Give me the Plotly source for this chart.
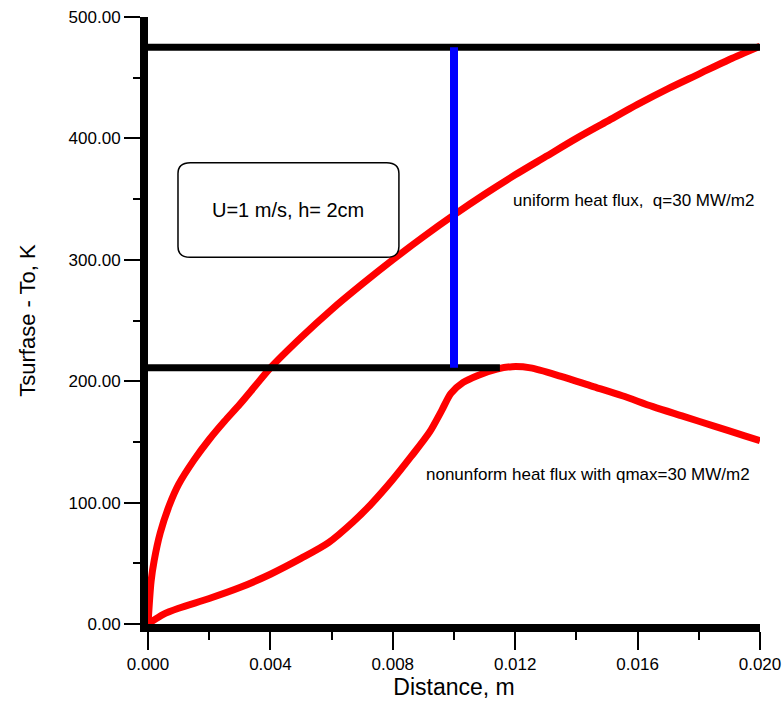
import plotly.graph_objects as go

# ---- data ----
uniform_x = [0.0, 0.0001, 0.0002, 0.0004, 0.0007, 0.001, 0.0015, 0.002, 0.0025, 0.003, 0.0035,
             0.004, 0.005, 0.006, 0.007, 0.008, 0.009, 0.010, 0.011, 0.012, 0.013, 0.014,
             0.015, 0.016, 0.017, 0.018, 0.019, 0.020]
uniform_T = [0, 35, 52, 75, 98, 115, 135, 152, 167, 181, 196,
             211, 236, 259, 280, 300, 319, 337, 354, 370, 385, 400,
             414, 428, 441, 453, 465, 476]

nonuni_x = [0.0, 0.0005, 0.001, 0.002, 0.003, 0.004, 0.005, 0.0059, 0.0067, 0.0073,
            0.0080, 0.0086, 0.0092, 0.0096, 0.0099, 0.0103, 0.0108, 0.0114, 0.0119, 0.0125,
            0.0135, 0.0145, 0.0155, 0.0165, 0.0175, 0.0185, 0.0195, 0.0200]
nonuni_T = [0, 8, 13, 21, 30, 41, 54, 67, 84, 99,
            119, 138, 158, 176, 190, 199, 205, 210, 212, 211,
            204, 196, 188, 179, 171, 163, 155, 151]

# reference lines: max of uniform case, max of nonuniform case, marker position
max_uniform = 475
max_nonuniform = 211
x_marker = 0.010
x_nonuni_peak = 0.0115
x_end = 0.020

y_ticks = [0, 100, 200, 300, 400, 500]
x_ticks = [0.000, 0.004, 0.008, 0.012, 0.016, 0.020]

label_uniform = "uniform heat flux,  q=30 MW/m2"
label_nonuni = "nonunform heat flux with qmax=30 MW/m2"
label_box = "U=1 m/s, h= 2cm"

FONT = "Arial, Liberation Sans, sans-serif"
RED = "#ff0000"

fig = go.Figure()
fig.add_trace(go.Scatter(x=uniform_x, y=uniform_T, mode="lines",
                         line=dict(color=RED, width=7, shape="spline", smoothing=0.8),
                         hoverinfo="skip"))
fig.add_trace(go.Scatter(x=nonuni_x, y=nonuni_T, mode="lines",
                         line=dict(color=RED, width=7, shape="spline", smoothing=0.8),
                         hoverinfo="skip"))
# black horizontal lines
fig.add_trace(go.Scatter(x=[0, x_end], y=[max_uniform, max_uniform], mode="lines",
                         line=dict(color="black", width=7), hoverinfo="skip"))
fig.add_trace(go.Scatter(x=[0, x_nonuni_peak], y=[max_nonuniform, max_nonuniform], mode="lines",
                         line=dict(color="black", width=7), hoverinfo="skip"))
# blue vertical
fig.add_trace(go.Scatter(x=[x_marker, x_marker], y=[max_nonuniform, max_uniform], mode="lines",
                         line=dict(color="#0000ff", width=8), hoverinfo="skip"))

# rounded box
bx0, bx1, by0, by1 = 0.00098, 0.0082, 302, 380
rx, ry = 0.0004, 9
path = (f"M {bx0+rx},{by0} L {bx1-rx},{by0} Q {bx1},{by0} {bx1},{by0+ry} "
        f"L {bx1},{by1-ry} Q {bx1},{by1} {bx1-rx},{by1} "
        f"L {bx0+rx},{by1} Q {bx0},{by1} {bx0},{by1-ry} "
        f"L {bx0},{by0+ry} Q {bx0},{by0} {bx0+rx},{by0} Z")
fig.add_shape(type="path", path=path, xref="x", yref="y",
              line=dict(color="black", width=1.5), fillcolor="white", layer="above")

fig.add_annotation(x=(bx0 + bx1) / 2, y=(by0 + by1) / 2, text=label_box, showarrow=False,
                   font=dict(family=FONT, size=20, color="black"), xanchor="center", yanchor="middle")
fig.add_annotation(x=0.01187, y=349, text=label_uniform, showarrow=False,
                   font=dict(family=FONT, size=17, color="black"), xanchor="left", yanchor="middle")
fig.add_annotation(x=0.00902, y=123, text=label_nonuni, showarrow=False,
                   font=dict(family=FONT, size=17, color="black"), xanchor="left", yanchor="middle")

fig.update_layout(
    width=783, height=704,
    margin=dict(l=148, r=23, t=17, b=80),
    paper_bgcolor="white", plot_bgcolor="white",
    showlegend=False,
    font=dict(family=FONT, size=17, color="black"),
)
fig.update_xaxes(
    range=[0, 0.020], tickvals=x_ticks, ticktext=[f"{v:.3f}" for v in x_ticks],
    showgrid=False, zeroline=False, automargin=False,
    showline=True, linecolor="black", linewidth=8,
    ticks="outside", ticklen=18, tickwidth=2, tickcolor="black",
    minor=dict(dtick=0.002, ticks="outside", ticklen=8, tickwidth=2, tickcolor="black", showgrid=False),
    title=dict(text="Distance, m", font=dict(family=FONT, size=23), standoff=8),
    tickfont=dict(family=FONT, size=17),
)
fig.update_yaxes(
    range=[0, 500], tickvals=y_ticks, ticktext=[f"{v:.2f}" for v in y_ticks],
    showgrid=False, zeroline=False, automargin=False,
    showline=True, linecolor="black", linewidth=8,
    ticks="outside", ticklen=16, tickwidth=2, tickcolor="black",
    minor=dict(dtick=50, ticks="outside", ticklen=7, tickwidth=2, tickcolor="black", showgrid=False),
    title=dict(text="Tsurfase - To, K", font=dict(family=FONT, size=22), standoff=30),
    tickfont=dict(family=FONT, size=17),
)

fig.write_html("out.html")
